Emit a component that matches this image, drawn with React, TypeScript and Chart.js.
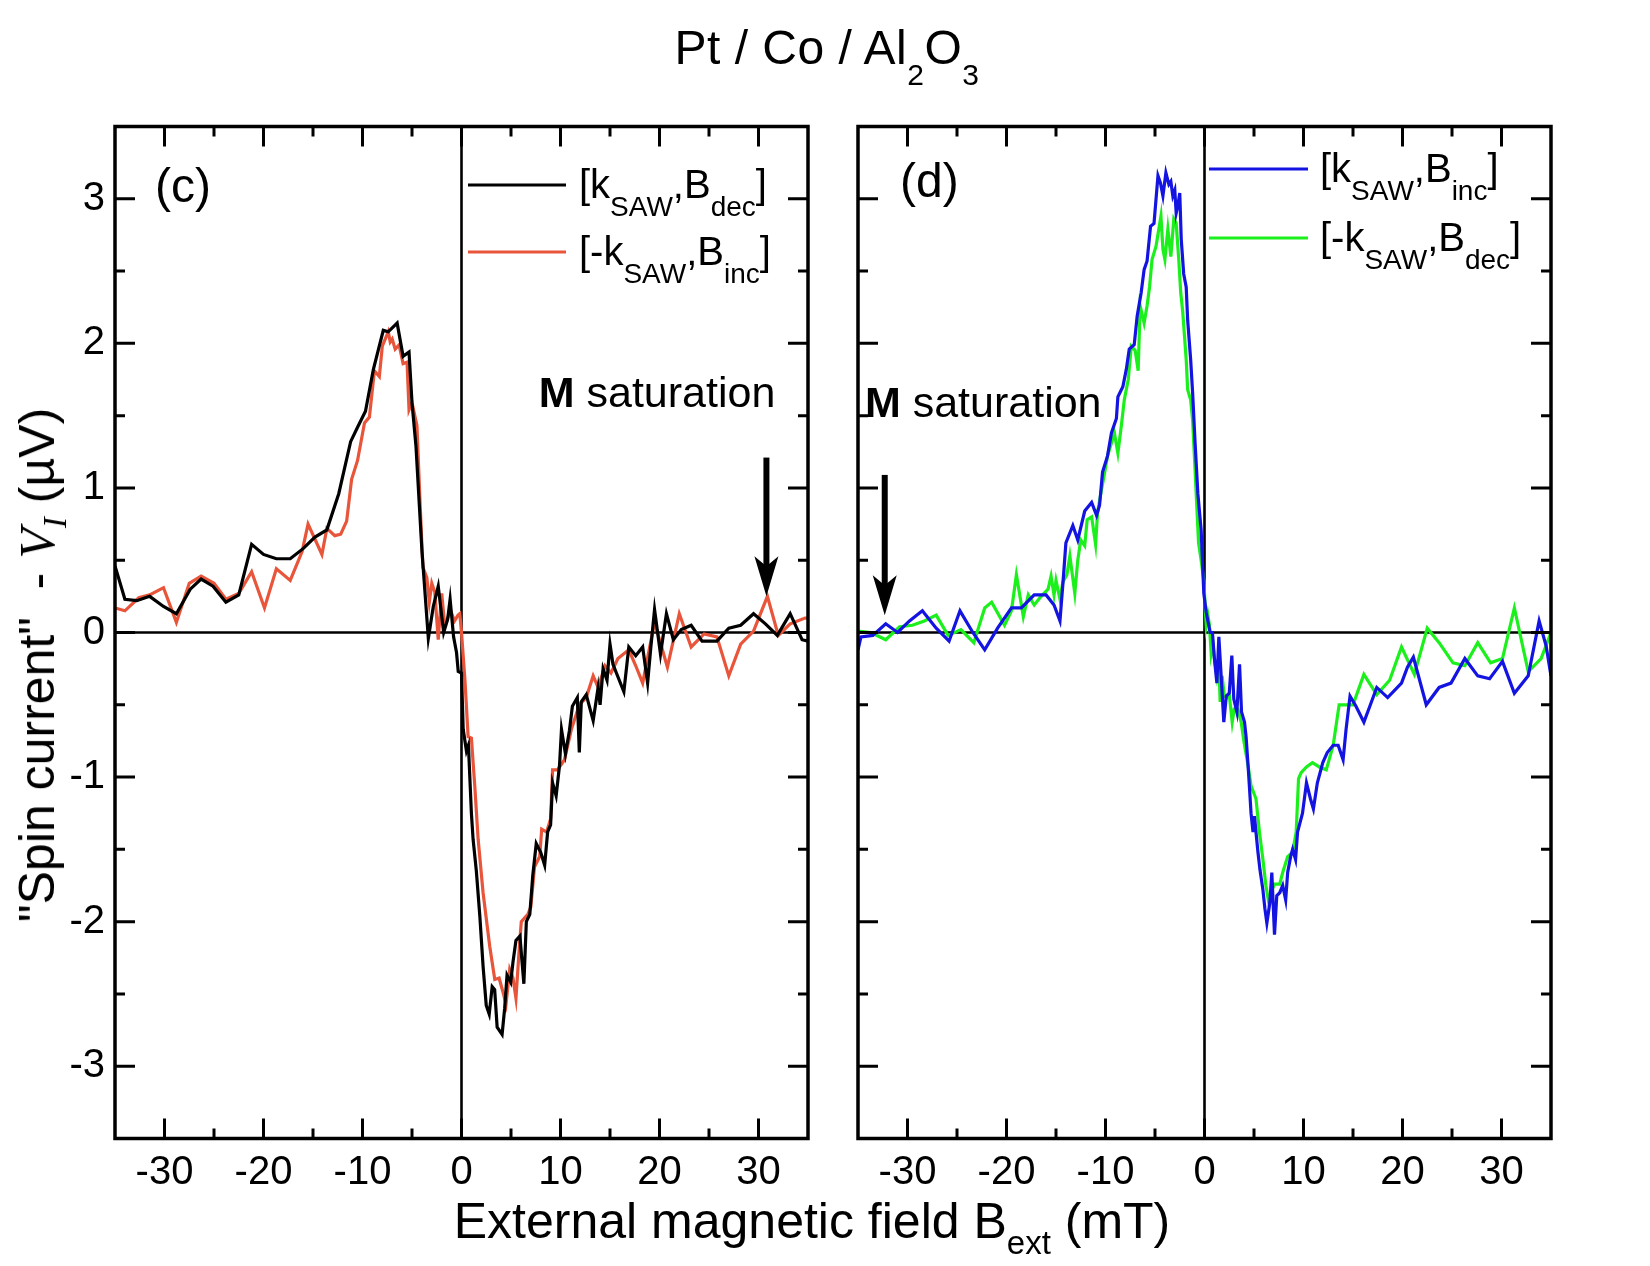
import { useEffect, useRef } from 'react';
import { Chart, registerables } from 'chart.js';

Chart.register(...registerables);

const SANS = '"Liberation Sans", Arial, Helvetica, sans-serif';
const SERIF = '"Liberation Serif", "Times New Roman", serif';

// axes
const xRange = [-35, 35];
const yRange = [-3.5, 3.5];
const xTickValues = [-30, -20, -10, 0, 10, 20, 30];
const xMinorValues = [-25, -15, -5, 5, 15, 25];
const yTickValues = [-3, -2, -1, 0, 1, 2, 3];
const yMinorValues = [-2.5, -1.5, -0.5, 0.5, 1.5, 2.5];

// panel (c): [k_SAW, B_dec] (black)
const cKDec: [number, number][] = [
  [-35, 0.46], [-34, 0.23], [-32.8, 0.22], [-31.5, 0.25], [-30.1, 0.18], [-28.8, 0.13],
  [-27.4, 0.3], [-26.3, 0.37], [-25.1, 0.32], [-23.8, 0.21], [-22.5, 0.26], [-21.2, 0.61],
  [-20, 0.54], [-18.7, 0.51], [-17.3, 0.51], [-16, 0.58], [-14.8, 0.66], [-13.6, 0.71],
  [-12.4, 0.96], [-11.2, 1.32], [-10.5, 1.42], [-9.7, 1.53], [-8.9, 1.82], [-7.9, 2.09],
  [-7.4, 2.08], [-6.5, 2.14], [-5.9, 1.91], [-5.3, 1.94], [-5, 1.59], [-4.6, 1.29],
  [-4, 0.57], [-3.35, -0.04], [-2.85, 0.18], [-2.35, 0.32], [-1.8, 0], [-1.4, 0.09],
  [-1.15, 0.23], [-0.8, -0.03], [-0.5, -0.14], [-0.33, -0.27], [0, -0.28], [0.17, -0.67],
  [0.5, -0.82], [0.7, -0.78], [1, -1.25], [1.17, -1.43], [1.5, -1.65], [1.85, -1.96],
  [2.18, -2.31], [2.5, -2.58], [2.8, -2.64], [3.1, -2.45], [3.35, -2.47], [3.6, -2.73],
  [4.1, -2.78], [4.36, -2.6], [4.6, -2.37], [4.97, -2.42], [5.2, -2.28], [5.5, -2.13],
  [5.9, -2.1], [6.3, -2.43], [6.55, -2.0], [6.9, -1.95], [7.2, -1.68], [7.55, -1.46],
  [8, -1.52], [8.4, -1.61], [8.7, -1.38], [9, -1.33], [9.2, -1.04], [9.56, -1.13],
  [9.9, -0.92], [10.1, -0.67], [10.5, -0.84], [10.9, -0.68], [11.2, -0.51], [11.7, -0.45],
  [11.9, -0.83], [12.1, -0.48], [12.6, -0.43], [13.3, -0.61], [13.8, -0.38], [14, -0.5],
  [14.3, -0.25], [14.7, -0.33], [15, -0.08], [15.3, -0.22], [16.4, -0.41], [16.9, -0.1],
  [17.6, -0.16], [18.3, -0.1], [18.8, -0.35], [19.1, -0.12], [19.5, 0.16], [20.1, -0.15],
  [20.7, 0.13], [21.4, -0.05], [22.2, 0.02], [23.2, 0.05], [24.3, -0.06], [25.8, -0.06],
  [27, 0.03], [28.2, 0.05], [29.5, 0.13], [30.7, 0.06], [31.9, -0.02], [33.2, 0.13],
  [34.4, -0.05], [35, -0.06],
];

// panel (c): [-k_SAW, B_inc] (red)
const cMinusKInc: [number, number][] = [
  [-35, 0.17], [-34, 0.15], [-32.6, 0.24], [-31.5, 0.26], [-30.1, 0.31], [-28.8, 0.07],
  [-27.5, 0.34], [-26.3, 0.39], [-25, 0.34], [-23.8, 0.23], [-22.5, 0.27], [-21.2, 0.42],
  [-19.9, 0.17], [-18.7, 0.44], [-17.3, 0.36], [-16.1, 0.56], [-15.5, 0.75], [-14.1, 0.54],
  [-13.6, 0.72], [-12.8, 0.67], [-12.2, 0.68], [-11.6, 0.77], [-11.1, 1.06], [-10.5, 1.19],
  [-9.8, 1.45], [-9.3, 1.49], [-8.8, 1.81], [-8.3, 1.77], [-8, 1.98], [-7.4, 2.08],
  [-7.2, 2.01], [-7, 2.03], [-6.7, 1.96], [-6.3, 1.99], [-5.9, 1.86], [-5.5, 1.87],
  [-5.3, 1.54], [-5, 1.59], [-4.5, 1.43], [-4.2, 0.92], [-3.9, 0.45], [-3.5, 0.38],
  [-3.25, 0.21], [-3, 0.34], [-2.7, 0.28], [-2.35, -0.05], [-2, 0.27], [-1.7, 0.05],
  [-1.1, 0.15], [-0.7, 0.08], [-0.35, 0.12], [-0.17, 0.13], [0, 0], [0.34, -0.32],
  [0.67, -0.72], [1, -0.73], [1.34, -1.06], [1.68, -1.43], [2.18, -1.8], [2.85, -2.17],
  [3.36, -2.4], [3.8, -2.39], [4.2, -2.49], [4.5, -2.57], [4.87, -2.33], [5.2, -2.39],
  [5.5, -2.53], [5.87, -2.15], [6.04, -2.0], [6.7, -1.95], [7, -1.9], [7.38, -1.62],
  [7.9, -1.55], [8.1, -1.36], [8.6, -1.38], [9, -1.29], [9.2, -0.95], [9.7, -0.95],
  [10.4, -0.88], [11.1, -0.67], [11.9, -0.5], [12.6, -0.45], [13.3, -0.3], [13.8, -0.38],
  [14.5, -0.23], [15.1, -0.28], [15.8, -0.18], [16.9, -0.12], [17.6, -0.23], [18.3, -0.35],
  [19.5, 0.07], [20.8, -0.24], [22, 0.13], [23.2, -0.1], [24.5, -0.01], [25.8, -0.03],
  [27, -0.3], [28.2, -0.08], [29.5, 0.01], [30.9, 0.25], [32, -0.02], [33.2, 0.06],
  [34.7, 0.1], [35, 0.1],
];

// panel (d): [k_SAW, B_inc] (blue)
const dKInc: [number, number][] = [
  [-35, -0.12], [-34.7, -0.03], [-33.5, -0.02], [-32.2, 0.06], [-31, 0], [-29.8, 0.08],
  [-28.5, 0.15], [-27.1, 0.03], [-25.8, -0.06], [-24.7, 0.15], [-23.4, 0], [-22.2, -0.12],
  [-20.9, 0.03], [-19.5, 0.17], [-18.5, 0.17], [-17.2, 0.26], [-16, 0.26], [-15.2, 0.19],
  [-14.6, 0.08], [-14.3, 0.34], [-14, 0.62], [-13.3, 0.74], [-12.8, 0.64], [-12.1, 0.84],
  [-11.4, 0.9], [-10.9, 0.81], [-10.6, 0.88], [-10.3, 1.11], [-9.8, 1.22], [-9.4, 1.38],
  [-8.9, 1.48], [-8.75, 1.63], [-8.25, 1.7], [-7.9, 1.82], [-7.6, 1.96], [-7.1, 1.99],
  [-6.8, 2.19], [-6.4, 2.35], [-6.1, 2.51], [-5.8, 2.57], [-5.45, 2.81], [-5.1, 2.83],
  [-4.7, 3.16], [-4.45, 3.11], [-4.2, 3.02], [-3.9, 3.18], [-3.6, 3.1], [-3.4, 3.12],
  [-3.2, 3.02], [-3, 3.06], [-2.86, 2.9], [-2.7, 2.95], [-2.5, 3.04], [-2.35, 2.72],
  [-2.1, 2.48], [-1.85, 2.39], [-1.7, 2.16], [-1.4, 1.89], [-1.2, 1.66], [-0.95, 1.31],
  [-0.67, 0.96], [-0.34, 0.71], [-0.07, 0.27], [0.17, 0.14], [0.57, 0], [0.8, 0],
  [1, -0.18], [1.25, -0.35], [1.45, -0.03], [1.7, -0.32], [1.95, -0.62], [2.2, -0.44],
  [2.5, -0.42], [2.76, -0.16], [2.96, -0.46], [3.27, -0.55], [3.54, -0.22], [3.74, -0.55],
  [4.04, -0.62], [4.2, -0.72], [4.4, -0.92], [4.55, -1.08], [4.7, -1.25], [4.9, -1.38],
  [5.05, -1.27], [5.2, -1.38], [5.4, -1.52], [5.6, -1.64], [5.9, -1.78], [6.1, -1.91],
  [6.3, -2.01], [6.6, -1.87], [6.8, -1.66], [7.07, -2.09], [7.3, -1.82], [7.6, -1.8],
  [7.9, -1.75], [8.2, -1.85], [8.4, -1.66], [8.7, -1.55], [8.9, -1.5], [9.2, -1.57],
  [9.4, -1.38], [9.9, -1.25], [10.3, -1.04], [10.7, -1.15], [11, -1.22], [11.4, -1.04],
  [11.95, -0.9], [12.4, -0.83], [13, -0.78], [13.5, -0.78], [14, -0.88], [14.3, -0.67],
  [14.7, -0.44], [15.3, -0.51], [16.1, -0.62], [16.7, -0.51], [17.4, -0.38], [18.5, -0.45],
  [19.9, -0.35], [20.5, -0.24], [21.1, -0.17], [22.4, -0.5], [23.7, -0.38], [24.9, -0.35],
  [26.3, -0.18], [27.6, -0.3], [28.8, -0.32], [30.1, -0.2], [31.3, -0.42], [32.7, -0.3],
  [33.8, 0.08], [34.5, -0.09], [35, -0.3],
];

// panel (d): [-k_SAW, B_dec] (green)
const dMinusKDec: [number, number][] = [
  [-35, 0.01], [-33.7, 0], [-32.2, -0.05], [-30.8, 0.04], [-29.5, 0.05], [-28.3, 0.08],
  [-27.1, 0.12], [-25.9, -0.02], [-24.6, 0.02], [-23.3, -0.07], [-22.2, 0.17], [-21.5, 0.21],
  [-20.2, 0.05], [-19.5, 0.15], [-19, 0.4], [-18.3, 0.11], [-17.8, 0.26], [-17.2, 0.19],
  [-16.5, 0.25], [-15.8, 0.3], [-15.5, 0.39], [-15.2, 0.26], [-15, 0.36], [-14.6, 0.23],
  [-14.3, 0.35], [-13.9, 0.4], [-13.6, 0.53], [-13.1, 0.27], [-12.8, 0.5], [-12.5, 0.64],
  [-12.1, 0.6], [-11.85, 0.78], [-11.4, 0.8], [-11, 0.61], [-10.8, 0.83], [-10.4, 0.99],
  [-10.1, 1.1], [-9.8, 1.22], [-9.4, 1.31], [-9.1, 1.38], [-8.75, 1.24], [-8.4, 1.43],
  [-8.1, 1.61], [-7.7, 1.75], [-7.4, 1.98], [-7, 1.95], [-6.7, 1.81], [-6.5, 2.26],
  [-6.1, 2.14], [-5.8, 2.26], [-5.55, 2.39], [-5.3, 2.58], [-4.9, 2.67], [-4.4, 2.88],
  [-4.2, 2.65], [-4, 2.58], [-3.7, 2.79], [-3.4, 2.6], [-3.1, 2.86], [-2.86, 2.83],
  [-2.6, 2.58], [-2.4, 2.35], [-2.2, 2.22], [-1.85, 1.89], [-1.7, 1.68], [-1.4, 1.61],
  [-1.2, 1.47], [-1, 1.19], [-0.84, 0.96], [-0.6, 0.62], [-0.34, 0.5], [-0.07, 0.36],
  [0.17, 0.05], [0.34, 0.12], [0.5, 0.05], [0.67, -0.14], [0.84, -0.07], [1, -0.18],
  [1.25, -0.3], [1.45, -0.21], [1.58, -0.48], [1.78, -0.3], [2, -0.44], [2.25, -0.45],
  [2.5, -0.43], [2.8, -0.62], [3, -0.53], [3.37, -0.53], [3.7, -0.62], [4, -0.76],
  [4.4, -0.92], [4.7, -1.06], [5.2, -1.15], [5.55, -1.38], [5.9, -1.57], [6.2, -1.75],
  [6.5, -1.87], [6.7, -1.8], [7.07, -1.74], [7.6, -1.74], [7.9, -1.66], [8.4, -1.55],
  [8.9, -1.52], [9.26, -1.38], [9.5, -1.01], [9.76, -0.97], [10.3, -0.93], [10.9, -0.9],
  [11.6, -0.93], [12.3, -0.95], [13, -0.78], [13.6, -0.5], [14.3, -0.5], [15, -0.5],
  [16.1, -0.29], [17.4, -0.43], [18.7, -0.33], [19.9, -0.1], [21.2, -0.29], [22.5, 0.03],
  [23.7, -0.07], [25.1, -0.21], [26.3, -0.23], [27.6, -0.07], [28.9, -0.21], [30.1, -0.18],
  [31.3, 0.17], [32.7, -0.27], [34, -0.18], [35, 0],
];

const BLACK = '#000000';
const RED = '#E8553A';
const BLUE = '#1414E2';
const GREEN = '#1CF01C';

type Decor = {
  tag: string;
  tagX: number;
  tagY: number;
  legend: { label: string; color: string }[];
  legendX1: number;
  legendX2: number;
  legendY: number[];
  legendTextX: number;
  note: [number, number];
  arrow: { x: number; from: number; to: number };
};

// draw "[k_{SAW},B_{dec}]" style text with subscripts
function drawRich(ctx: CanvasRenderingContext2D, text: string, x: number, y: number, size: number) {
  const parts = text.split(/_\{([^}]*)\}/);
  let cx = x;
  parts.forEach((p, i) => {
    const sub = i % 2 === 1;
    ctx.font = `${sub ? Math.round(size * 0.7) : size}px ${SANS}`;
    ctx.fillText(p, cx, sub ? y + 18 : y);
    cx += ctx.measureText(p).width;
  });
}

function decorPlugin(d: Decor) {
  return {
    id: 'decor',
    beforeDatasetsDraw(chart: any) {
      const { ctx, chartArea: a, scales } = chart;
      const x0 = scales.x.getPixelForValue(0);
      const y0 = scales.y.getPixelForValue(0);
      ctx.save();
      ctx.strokeStyle = '#000';
      ctx.lineWidth = 2.6;
      ctx.beginPath();
      ctx.moveTo(a.left, y0);
      ctx.lineTo(a.right, y0);
      ctx.moveTo(x0, a.top);
      ctx.lineTo(x0, a.bottom);
      ctx.stroke();
      ctx.restore();
    },
    afterDatasetsDraw(chart: any) {
      const { ctx, chartArea: a, scales } = chart;
      const sx = scales.x;
      const sy = scales.y;
      ctx.save();
      ctx.strokeStyle = '#000';
      ctx.fillStyle = '#000';
      ctx.lineCap = 'butt';

      // inward ticks on all four sides
      ctx.lineWidth = 3;
      ctx.beginPath();
      const tickX = (v: number, len: number) => {
        const p = sx.getPixelForValue(v);
        ctx.moveTo(p, a.bottom);
        ctx.lineTo(p, a.bottom - len);
        ctx.moveTo(p, a.top);
        ctx.lineTo(p, a.top + len);
      };
      const tickY = (v: number, len: number) => {
        const p = sy.getPixelForValue(v);
        ctx.moveTo(a.left, p);
        ctx.lineTo(a.left + len, p);
        ctx.moveTo(a.right, p);
        ctx.lineTo(a.right - len, p);
      };
      xTickValues.forEach((v) => tickX(v, 20));
      xMinorValues.forEach((v) => tickX(v, 10));
      yTickValues.forEach((v) => tickY(v, 20));
      yMinorValues.forEach((v) => tickY(v, 10));
      ctx.stroke();

      // frame
      ctx.lineWidth = 3.5;
      ctx.strokeRect(a.left, a.top, a.right - a.left, a.bottom - a.top);

      // panel tag
      ctx.textAlign = 'left';
      ctx.textBaseline = 'alphabetic';
      ctx.font = `48px ${SANS}`;
      ctx.fillText(d.tag, a.left + d.tagX, a.top + d.tagY);

      // legend
      d.legend.forEach((item, i) => {
        const ly = a.top + d.legendY[i];
        ctx.strokeStyle = item.color;
        ctx.lineWidth = 3;
        ctx.beginPath();
        ctx.moveTo(a.left + d.legendX1, ly);
        ctx.lineTo(a.left + d.legendX2, ly);
        ctx.stroke();
        ctx.fillStyle = '#000';
        drawRich(ctx, item.label, a.left + d.legendTextX, ly + 13, 40);
      });

      // "M saturation" note
      const nx = sx.getPixelForValue(d.note[0]);
      const ny = sy.getPixelForValue(d.note[1]);
      ctx.font = `bold 43px ${SANS}`;
      ctx.fillText('M', nx, ny);
      const mw = ctx.measureText('M').width;
      ctx.font = `43px ${SANS}`;
      ctx.fillText(' saturation', nx + mw, ny);

      // arrow
      const ax = sx.getPixelForValue(d.arrow.x);
      const aTop = sy.getPixelForValue(d.arrow.from);
      const aTip = sy.getPixelForValue(d.arrow.to);
      ctx.strokeStyle = '#000';
      ctx.lineWidth = 6;
      ctx.beginPath();
      ctx.moveTo(ax, aTop);
      ctx.lineTo(ax, aTip - 28);
      ctx.stroke();
      ctx.beginPath();
      ctx.moveTo(ax, aTip);
      ctx.lineTo(ax - 12, aTip - 40);
      ctx.lineTo(ax, aTip - 30);
      ctx.lineTo(ax + 12, aTip - 40);
      ctx.closePath();
      ctx.fill();
      ctx.restore();
    },
  };
}

type PanelProps = {
  series: { data: [number, number][]; color: string }[];
  showYLabels: boolean;
  yAxisWidth: number;
  padRight: number;
  decor: Decor;
};

function Panel({ series, showYLabels, yAxisWidth, padRight, decor }: PanelProps) {
  const canvasRef = useRef<HTMLCanvasElement>(null);

  useEffect(() => {
    if (!canvasRef.current) return;
    const tickFont = { family: SANS, size: 40 };
    const chart = new Chart(canvasRef.current, {
      type: 'line',
      data: {
        datasets: series.map((s, i) => ({
          data: s.data.map(([x, y]) => ({ x, y })),
          borderColor: s.color,
          borderWidth: 3.2,
          pointRadius: 0,
          tension: 0,
          fill: false,
          order: series.length - i,
        })),
      },
      options: {
        animation: false,
        responsive: true,
        maintainAspectRatio: false,
        events: [],
        layout: { padding: { left: 0, top: 126.5, right: padRight, bottom: 0 } },
        plugins: { legend: { display: false }, tooltip: { enabled: false } },
        scales: {
          x: {
            type: 'linear',
            min: xRange[0],
            max: xRange[1],
            grid: { display: false, drawTicks: false },
            border: { display: false },
            afterBuildTicks: (s: any) => {
              s.ticks = xTickValues.map((value) => ({ value }));
            },
            afterFit: (s: any) => {
              s.height = 127.5;
            },
            ticks: {
              font: tickFont,
              color: '#000',
              padding: 10,
              maxRotation: 0,
              autoSkip: false,
              callback: (v: any) => String(v),
            },
          },
          y: {
            type: 'linear',
            min: yRange[0],
            max: yRange[1],
            grid: { display: false, drawTicks: false },
            border: { display: false },
            afterBuildTicks: (s: any) => {
              s.ticks = yTickValues.map((value) => ({ value }));
            },
            afterFit: (s: any) => {
              s.width = yAxisWidth;
            },
            ticks: {
              display: showYLabels,
              font: tickFont,
              color: '#000',
              padding: 10,
              callback: (v: any) => String(v),
            },
          },
        },
      },
      plugins: [decorPlugin(decor)],
    } as any);
    return () => chart.destroy();
  }, []);

  return <canvas ref={canvasRef}></canvas>;
}

const leftDecor: Decor = {
  tag: '(c)',
  tagX: 40,
  tagY: 75.5,
  legend: [
    { label: '[k_{SAW},B_{dec}]', color: BLACK },
    { label: '[-k_{SAW},B_{inc}]', color: RED },
  ],
  legendX1: 353,
  legendX2: 451,
  legendY: [58.5, 125.5],
  legendTextX: 464,
  note: [7.8, 1.56],
  arrow: { x: 30.8, from: 1.21, to: 0.25 },
};

const rightDecor: Decor = {
  tag: '(d)',
  tagX: 42,
  tagY: 70.5,
  legend: [
    { label: '[k_{SAW},B_{inc}]', color: BLUE },
    { label: '[-k_{SAW},B_{dec}]', color: GREEN },
  ],
  legendX1: 351,
  legendX2: 450,
  legendY: [42.5, 111.5],
  legendTextX: 462,
  note: [-34.3, 1.49],
  arrow: { x: -32.3, from: 1.09, to: 0.12 },
};

export default function App() {
  return (
    <div style={{ position: 'absolute', left: 0, top: 0, width: 1650, height: 1266, background: '#fff', fontFamily: SANS }}>
      <div style={{ position: 'absolute', left: 0, top: 0, width: 835, height: 1266 }}>
        <Panel
          series={[
            { data: cMinusKInc, color: RED },
            { data: cKDec, color: BLACK },
          ]}
          showYLabels={true}
          yAxisWidth={115}
          padRight={27}
          decor={leftDecor}
        />
      </div>
      <div style={{ position: 'absolute', left: 835, top: 0, width: 815, height: 1266 }}>
        <Panel
          series={[
            { data: dMinusKDec, color: GREEN },
            { data: dKInc, color: BLUE },
          ]}
          showYLabels={false}
          yAxisWidth={23}
          padRight={99}
          decor={rightDecor}
        />
      </div>

      {/* title */}
      <div style={{ position: 'absolute', left: 827, top: 24, transform: 'translateX(-50%)', fontSize: 48, lineHeight: '48px', whiteSpace: 'pre', letterSpacing: 0.5 }}>
        Pt / Co / Al<span style={{ fontSize: 30, position: 'relative', top: 21 }}>2</span>O<span style={{ fontSize: 30, position: 'relative', top: 21 }}>3</span>
      </div>

      {/* x axis title */}
      <div style={{ position: 'absolute', left: 812, top: 1196, transform: 'translateX(-50%)', fontSize: 50, lineHeight: '50px', whiteSpace: 'pre' }}>
        External magnetic field B<span style={{ fontSize: 33, position: 'relative', top: 16 }}>ext</span> (mT)
      </div>

      {/* y axis title */}
      <div style={{ position: 'absolute', left: 40, top: 665, transform: 'translate(-50%, -50%) rotate(-90deg)', fontSize: 50, lineHeight: '50px', whiteSpace: 'pre' }}>
        {'"Spin current"  - '}
        <span style={{ fontFamily: SERIF, fontStyle: 'italic' }}>
          V<span style={{ fontSize: 33, position: 'relative', top: 12 }}>I</span>
        </span>
        {' (µV)'}
      </div>
    </div>
  );
}
